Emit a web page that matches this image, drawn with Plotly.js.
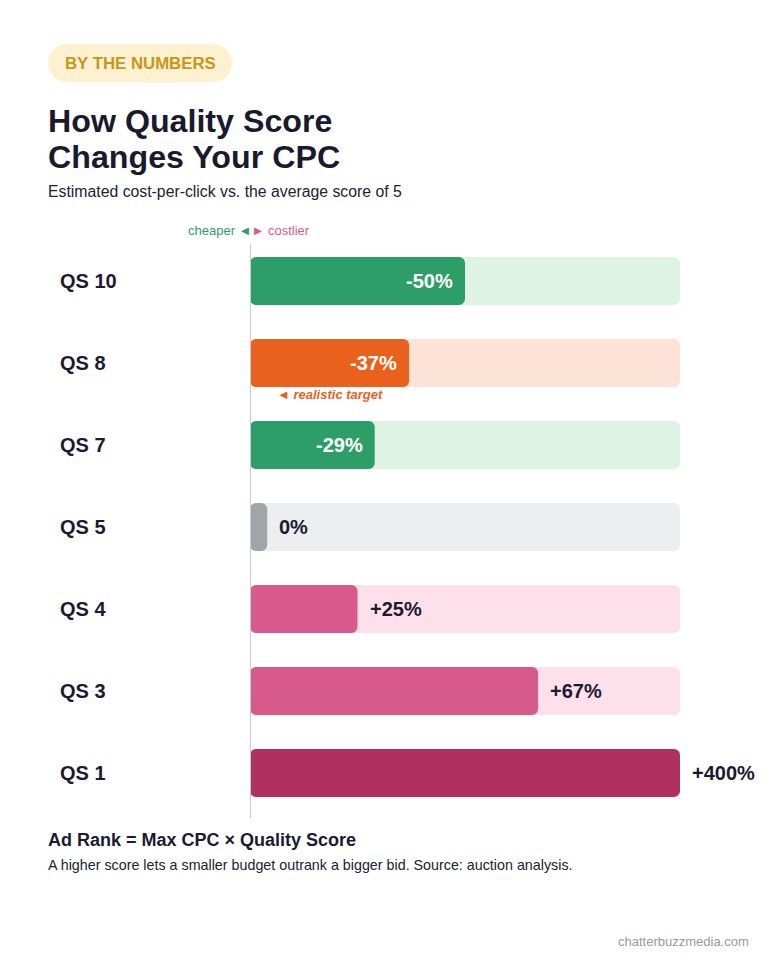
<!DOCTYPE html>
<html>
<head>
<meta charset="utf-8">
<script src="https://cdn.plot.ly/plotly-3.0.1.min.js"></script>
<style>html,body{margin:0;padding:0;background:#fff;}#chart{width:768px;height:960px;}</style>
</head>
<body>
<div id="chart"></div>
<script>
// ---- data ----
const categories = ["QS 10", "QS 8", "QS 7", "QS 5", "QS 4", "QS 3", "QS 1"];
const cpcChange = [-50, -37, -29, 0, 25, 67, 400];
const valueLabels = ["-50%", "-37%", "-29%", "0%", "+25%", "+67%", "+400%"];
const barColors = ["#2e9e68", "#ea611d", "#2e9e68", "#a1a5aa", "#d85a8d", "#d85a8d", "#b03060"];
const trackColors = ["#dff3e5", "#fde2d6", "#dff3e5", "#eceef0", "#fde0ea", "#fde0ea", "#fde0ea"];
const trackMax = 100;
const minStub = 4;

const W = 768, H = 960;
const px = x => x / W;
const py = y => 1 - y / H;
const FONT = "Liberation Sans, Arial, sans-serif";
const DARK = "#1b1a30";

const barLen = cpcChange.map(v => Math.max(minStub, Math.min(Math.abs(v), trackMax)));

// an explicit base makes Plotly round both ends of the bar
const common = {type: "bar", orientation: "h", y: categories, width: 0.585, hoverinfo: "skip",
                base: categories.map(() => 0)};
const traces = [
  Object.assign({}, common, {x: categories.map(() => trackMax), marker: {color: trackColors, line: {width: 0}}}),
  Object.assign({}, common, {x: barLen, marker: {color: barColors, line: {width: 0}}})
];

const annotations = [];
const ann = (o) => Object.assign({showarrow: false, borderpad: 0}, o);
categories.forEach((c, i) => {
  annotations.push(ann({
    xref: "paper", yref: "y", x: px(60), y: c, xanchor: "left", yanchor: "middle", xshift: -1,
    text: "<b>" + c + "</b>", font: {family: FONT, size: 20, color: DARK}
  }));
  const neg = cpcChange[i] < 0;
  annotations.push(ann({
    xref: "x", yref: "y", x: barLen[i], y: c, xanchor: neg ? "right" : "left", yanchor: "middle",
    xshift: neg ? -11 : 11, text: "<b>" + valueLabels[i] + "</b>",
    font: {family: FONT, size: 20, color: neg ? "#ffffff" : DARK}
  }));
});

annotations.push(
  ann({xref: "paper", yref: "paper", x: px(65), y: py(63), xanchor: "left", yanchor: "middle", xshift: -1,
   text: "<b>BY THE NUMBERS</b>", font: {family: FONT, size: 16.8, color: "#c8961c"}}),
  ann({xref: "paper", yref: "paper", x: px(48), y: py(121), xanchor: "left", yanchor: "middle", xshift: -1,
   text: "<b>How Quality Score</b>", font: {family: FONT, size: 32.2, color: "#1a1a2e"}}),
  ann({xref: "paper", yref: "paper", x: px(48), y: py(157), xanchor: "left", yanchor: "middle", xshift: -1,
   text: "<b>Changes Your CPC</b>", font: {family: FONT, size: 32.2, color: "#1a1a2e"}}),
  ann({xref: "paper", yref: "paper", x: px(48), y: py(192), xanchor: "left", yanchor: "middle", xshift: -1,
   text: "Estimated cost-per-click vs. the average score of 5",
   font: {family: FONT, size: 15.8, color: "#222230"}}),
  ann({xref: "paper", yref: "paper", x: px(249), y: py(231), xanchor: "center", yanchor: "middle",
   text: "<span style='color:#2e9e68'>cheaper ◄</span><span style='color:#d85a8d'>► costlier</span>",
   font: {family: FONT, size: 13, color: "#2e9e68"}}),
  ann({xref: "paper", yref: "paper", x: px(277), y: py(395), xanchor: "left", yanchor: "middle", xshift: -1,
   text: "<b><i>◄ realistic target</i></b>", font: {family: FONT, size: 13, color: "#ea611d"}}),
  ann({xref: "paper", yref: "paper", x: px(48), y: py(840), xanchor: "left", yanchor: "middle", xshift: -1,
   text: "<b>Ad Rank = Max CPC × Quality Score</b>", font: {family: FONT, size: 18, color: DARK}}),
  ann({xref: "paper", yref: "paper", x: px(48), y: py(865), xanchor: "left", yanchor: "middle", xshift: -1,
   text: "A higher score lets a smaller budget outrank a bigger bid. Source: auction analysis.",
   font: {family: FONT, size: 14.3, color: "#222230"}}),
  ann({xref: "paper", yref: "paper", x: px(749), y: py(941), xanchor: "right", yanchor: "middle", xshift: 1,
   text: "chatterbuzzmedia.com", font: {family: FONT, size: 13, color: "#9a9a9a"}})
);

const shapes = [
  {type: "rect", xref: "paper", yref: "paper", x0: px(67), x1: px(213), y0: py(44), y1: py(82),
   fillcolor: "#fdf1cf", line: {width: 0}, layer: "below"},
  {type: "circle", xref: "paper", yref: "paper", x0: px(48), x1: px(86), y0: py(44), y1: py(82),
   fillcolor: "#fdf1cf", line: {width: 0}, layer: "below"},
  {type: "circle", xref: "paper", yref: "paper", x0: px(194), x1: px(232), y0: py(44), y1: py(82),
   fillcolor: "#fdf1cf", line: {width: 0}, layer: "below"},
  {type: "line", xref: "x", yref: "paper", x0: 0, x1: 0, y0: py(244), y1: py(818),
   line: {color: "#c9cacf", width: 2}, layer: "above"}
];

const layout = {
  width: W, height: H, margin: {l: 0, r: 0, t: 0, b: 0},
  paper_bgcolor: "#ffffff", plot_bgcolor: "rgba(0,0,0,0)",
  barmode: "overlay", barcornerradius: 6, showlegend: false,
  xaxis: {domain: [px(250), px(680)], range: [0, trackMax], visible: false, fixedrange: true},
  yaxis: {domain: [py(814), py(240)], type: "category", categoryarray: categories,
          range: [categories.length - 0.5, -0.5], visible: false, fixedrange: true},
  annotations: annotations, shapes: shapes, hovermode: false
};

Plotly.newPlot("chart", traces, layout, {displayModeBar: false, staticPlot: true});
</script>
</body>
</html>
